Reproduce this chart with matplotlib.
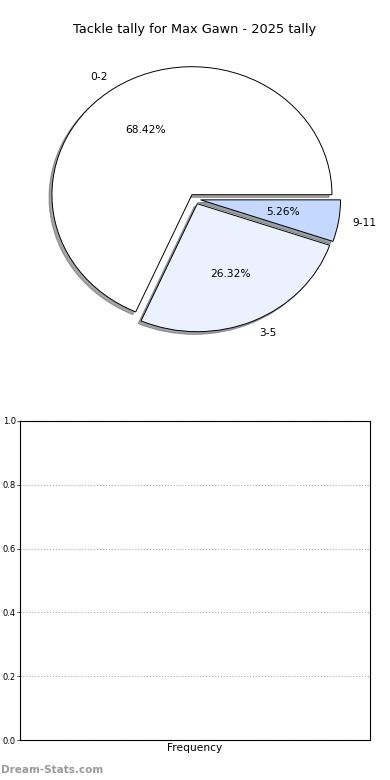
import matplotlib
matplotlib.use("Agg")
import matplotlib.pyplot as plt

labels = ["0-2", "3-5", "9-11"]
values = [13, 5, 1]
colors = ["#ffffff", "#ebf1ff", "#c5d8ff"]
explode = [0.04, 0.04, 0.04]
title = "Tackle tally for Max Gawn - 2025 tally"
yticks = [0.0, 0.2, 0.4, 0.6, 0.8, 1.0]

fig = plt.figure(figsize=(3.9, 7.8), dpi=100)

ax1 = fig.add_axes([20/390, 1 - 359/780, 350/390, 320/780])
wedges, texts, autotexts = ax1.pie(
    values, labels=labels, colors=colors, explode=explode,
    shadow=dict(ox=-0.015, oy=-0.015),
    startangle=0, autopct="%1.2f%%",
    wedgeprops=dict(edgecolor="black", linewidth=0.7),
    textprops=dict(fontsize=7.7))
ax1.set_aspect("auto")
ax1.set_title(title, fontsize=9.3, pad=4)

ax2 = fig.add_axes([20/390, 40/780, 350/390, 319/780])
ax2.set_ylim(0, 1)
ax2.set_yticks(yticks)
ax2.set_yticklabels([f"{t:.1f}" for t in yticks], fontsize=6)
ax2.set_xticks([])
ax2.set_xlabel("Frequency", fontsize=7.7, labelpad=2)
ax2.yaxis.grid(True, linestyle=":", color="#aaaaaa", linewidth=0.8)
ax2.tick_params(axis="y", length=2, width=0.5, pad=1)

fig.text(0.002, 0.006, "Dream-Stats.com", fontsize=7.5, color="#9a9a9a",
         fontweight="bold", ha="left", va="bottom")

fig.savefig("out.png", dpi=100)
